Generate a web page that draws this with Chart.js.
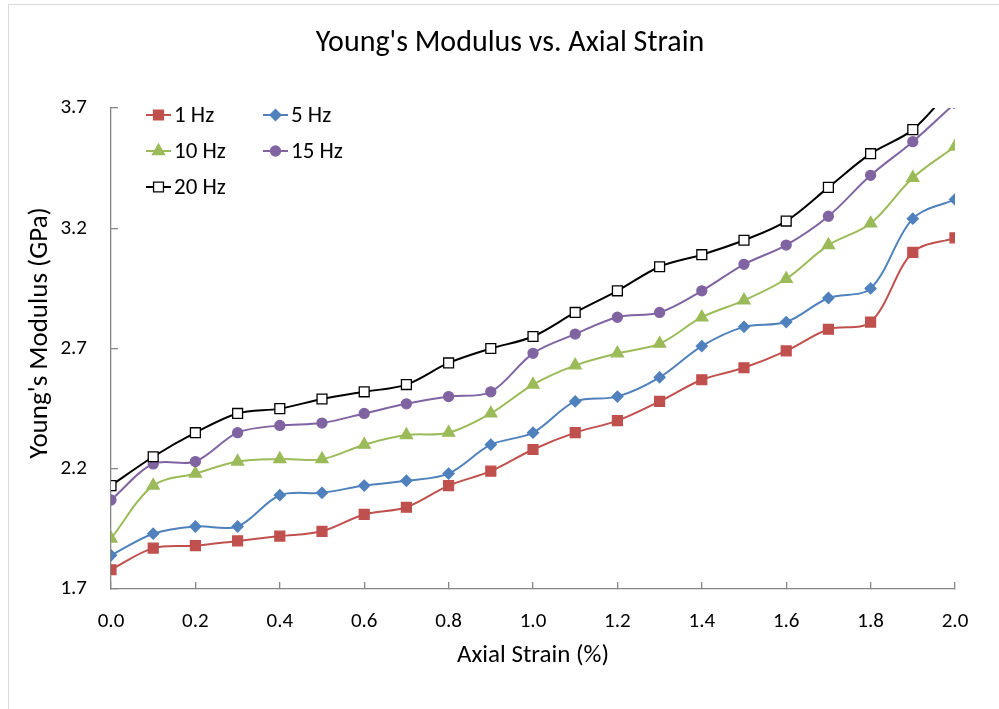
<!DOCTYPE html>
<html>
<head>
<meta charset="utf-8">
<title>Young's Modulus vs. Axial Strain</title>
<script src="https://cdn.jsdelivr.net/npm/chart.js@4.4.1/dist/chart.umd.min.js"></script>
<style>
  html, body { margin: 0; padding: 0; background: #fff; }
  canvas { display: block; }
</style>
</head>
<body>
<canvas id="chart" width="999" height="709"></canvas>
<script>
// axial strain (%) and Young's modulus (GPa) per loading frequency
const strain = [0.0, 0.1, 0.2, 0.3, 0.4, 0.5, 0.6, 0.7, 0.8, 0.9, 1.0,
                1.1, 1.2, 1.3, 1.4, 1.5, 1.6, 1.7, 1.8, 1.9, 2.0];
const hz1  = [1.78, 1.87, 1.88, 1.90, 1.92, 1.94, 2.01, 2.04, 2.13, 2.19, 2.28,
              2.35, 2.40, 2.48, 2.57, 2.62, 2.69, 2.78, 2.81, 3.10, 3.16];
const hz5  = [1.84, 1.93, 1.96, 1.96, 2.09, 2.10, 2.13, 2.15, 2.18, 2.30, 2.35,
              2.48, 2.50, 2.58, 2.71, 2.79, 2.81, 2.91, 2.95, 3.24, 3.32];
const hz10 = [1.91, 2.13, 2.18, 2.23, 2.24, 2.24, 2.30, 2.34, 2.35, 2.43, 2.55,
              2.63, 2.68, 2.72, 2.83, 2.90, 2.99, 3.13, 3.22, 3.41, 3.54];
const hz15 = [2.07, 2.22, 2.23, 2.35, 2.38, 2.39, 2.43, 2.47, 2.50, 2.52, 2.68,
              2.76, 2.83, 2.85, 2.94, 3.05, 3.13, 3.25, 3.42, 3.56, 3.72];
const hz20 = [2.13, 2.25, 2.35, 2.43, 2.45, 2.49, 2.52, 2.55, 2.64, 2.70, 2.75,
              2.85, 2.94, 3.04, 3.09, 3.15, 3.23, 3.37, 3.51, 3.61, 3.80];

const seriesNames = ['1 Hz', '5 Hz', '10 Hz', '15 Hz', '20 Hz'];
const xTicks = [0.0, 0.2, 0.4, 0.6, 0.8, 1.0, 1.2, 1.4, 1.6, 1.8, 2.0];
const yTicks = [1.7, 2.2, 2.7, 3.2, 3.7];

const chartTitle = "Young's Modulus vs. Axial Strain";
const xTitle = 'Axial Strain (%)';
const yTitle = "Young's Modulus (GPa)";

const FONT = "Carlito, Calibri, Lato, sans-serif";
const AXIS = '#868686';

function pts(values) {
  return values.map((v, i) => ({ x: strain[i], y: v }));
}

function series(label, values, color, style, radius, fill, order) {
  return {
    label: label,
    data: pts(values),
    borderColor: color,
    borderWidth: 2,
    backgroundColor: color,
    pointStyle: style,
    pointRadius: radius,
    pointHoverRadius: radius,
    pointBackgroundColor: fill,
    pointBorderColor: color,
    pointBorderWidth: 1.3,
    tension: 0.33,
    order: order
  };
}

const datasets = [
  series(seriesNames[0], hz1,  '#C0504D', 'rect',     7,   '#C0504D', 4),
  series(seriesNames[1], hz5,  '#4F81BD', 'rectRot',  5.5, '#4F81BD', 3),
  series(seriesNames[2], hz10, '#9BBB59', 'triangle', 7,   '#9BBB59', 2),
  series(seriesNames[3], hz15, '#8064A2', 'circle',   5,   '#8064A2', 1),
  series(seriesNames[4], hz20, '#000000', 'rect',     7,   '#FFFFFF', 0)
];

// background, outer frame, chart title and axis titles
const frame = {
  id: 'frame',
  beforeDraw(chart) {
    const c = chart.ctx;
    const area = chart.chartArea;
    c.save();
    c.fillStyle = '#fff';
    c.fillRect(0, 0, chart.width, chart.height);
    c.strokeStyle = '#D9D9D9';
    c.lineWidth = 1;
    c.strokeRect(8.5, 4.5, chart.width + 20, chart.height + 20);

    c.fillStyle = '#000';
    c.textAlign = 'center';
    c.textBaseline = 'middle';
    c.font = '30px ' + FONT;
    c.fillText(chartTitle, 510, 43);

    c.font = '25px ' + FONT;
    c.fillText(xTitle, (area.left + area.right) / 2, 656);

    c.translate(40, 333);
    c.rotate(-Math.PI / 2);
    c.font = '27px ' + FONT;
    c.fillText(yTitle, 0, 0);
    c.restore();
  }
};

// two-column legend inside the plot area
const legendBox = {
  id: 'legendBox',
  afterDraw(chart) {
    const c = chart.ctx;
    const cols = [146, 263];
    const rows = [115, 151, 187];
    c.save();
    c.font = '23px ' + FONT;
    c.textBaseline = 'middle';
    c.textAlign = 'left';
    chart.data.datasets.forEach((ds, i) => {
      const x = cols[i % 2];
      const y = rows[Math.floor(i / 2)];
      c.strokeStyle = ds.borderColor;
      c.lineWidth = ds.borderWidth;
      c.beginPath();
      c.moveTo(x, y);
      c.lineTo(x + 25, y);
      c.stroke();
      c.fillStyle = ds.pointBackgroundColor;
      c.strokeStyle = ds.pointBorderColor;
      c.lineWidth = ds.pointBorderWidth;
      Chart.helpers.drawPoint(c, {
        pointStyle: ds.pointStyle,
        radius: ds.pointRadius,
        rotation: 0,
        borderWidth: ds.pointBorderWidth
      }, x + 12.5, y);
      c.fillStyle = '#000';
      c.fillText(ds.label, x + 28, y + 1);
    });
    c.restore();
  }
};

new Chart(document.getElementById('chart'), {
  type: 'line',
  data: { datasets: datasets },
  plugins: [frame, legendBox],
  options: {
    responsive: false,
    animation: false,
    devicePixelRatio: 1,
    layout: { padding: { top: 108, left: 0, right: 44, bottom: 0 } },
    plugins: {
      legend: { display: false },
      tooltip: { enabled: false },
      title: { display: false }
    },
    scales: {
      x: {
        type: 'linear',
        min: 0,
        max: 2,
        afterFit(s) { s.height = 120; },
        afterBuildTicks(s) { s.ticks = xTicks.map(v => ({ value: v })); },
        border: { color: AXIS, width: 1.3 },
        grid: { drawOnChartArea: false, drawTicks: true, tickLength: -7, color: AXIS, lineWidth: 1.3 },
        ticks: {
          padding: 27,
          color: '#000',
          font: { family: FONT, size: 21 },
          callback: v => Number(v).toFixed(1)
        }
      },
      y: {
        type: 'linear',
        min: 1.7,
        max: 3.7,
        afterFit(s) { s.width = 111; },
        afterBuildTicks(s) { s.ticks = yTicks.map(v => ({ value: v })); },
        border: { color: AXIS, width: 1.3 },
        grid: { drawOnChartArea: false, drawTicks: true, tickLength: -7, color: AXIS, lineWidth: 1.3 },
        ticks: {
          padding: 31,
          color: '#000',
          font: { family: FONT, size: 21 },
          callback: v => Number(v).toFixed(1)
        }
      }
    }
  }
});
</script>
</body>
</html>
